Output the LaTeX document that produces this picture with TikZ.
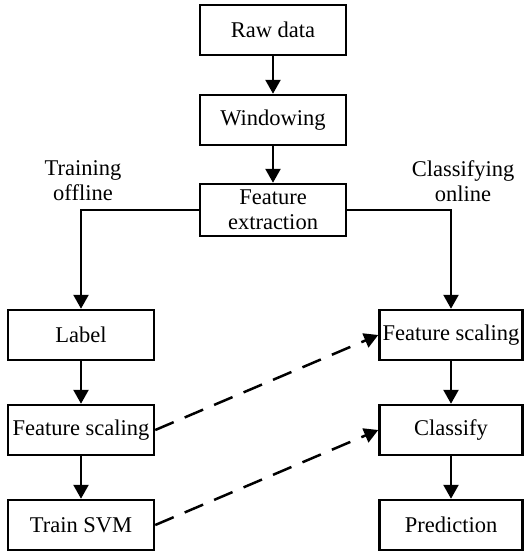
\documentclass[tikz,border=0pt]{standalone}
\usepackage{fontspec}
\setmainfont{Liberation Serif}
\usepackage{tikz}
\usetikzlibrary{shapes, arrows.meta, positioning, arrows}

\begin{document}
\begin{tikzpicture}[x=1pt, y=-1pt, font=\rmfamily\fontsize{22.5}{25}\selectfont]
    \useasboundingbox (0,0) rectangle (524,554);
    \tikzstyle{block} = [draw, line width=2.5pt, inner sep=1pt, align=center,
        minimum width=146pt, minimum height=50pt];
    \node[block] at (273,30) (raw) {Raw data};
    \node[block] at (273,120) (windowing) {Windowing};
    \node[block, minimum height=52pt] at (273,210) (extraction) {Feature\\extraction};
    \node[draw=none, align=center] at (83,181) (offline) {Training\\offline};
    \node[draw=none, align=center] at (463,181) (online) {Classifying\\online};
    \node[block] at (81,335) (label) {Label};
    \node[block] at (81,430) (scaletrain) {Feature scaling};
    \node[block] at (81,525) (svm) {Train SVM};
    \node[block, minimum width=143pt] at (451,335) (scaletest) {Feature scaling};
    \node[block, minimum width=143pt] at (451,430) (classify) {Classify};
    \node[block, minimum width=143pt] at (451,525) (prediction) {Prediction};
    \tikzstyle{connector} = [draw, line width=2.5pt, -{Triangle[length=14pt,width=15pt]}];
    \tikzstyle{reuse} = [connector, dash pattern=on 20pt off 12pt]
    \path[connector] (raw) -- (windowing);
    \path[connector] (windowing) -- (extraction);
    \path[connector] (extraction.west) -| (label.north);
    \path[connector] (extraction.east) -| (scaletest.north);
    \path[connector] (label) -- (scaletrain);
    \path[connector] (scaletrain) -- (svm);
    \path[connector] (scaletest) -- (classify);
    \path[connector] (classify) -- (prediction);
    \path[reuse] (scaletrain.east) -- (scaletest.west);
    \path[reuse] (svm.east) -- (classify.west);
\end{tikzpicture}
\end{document}
